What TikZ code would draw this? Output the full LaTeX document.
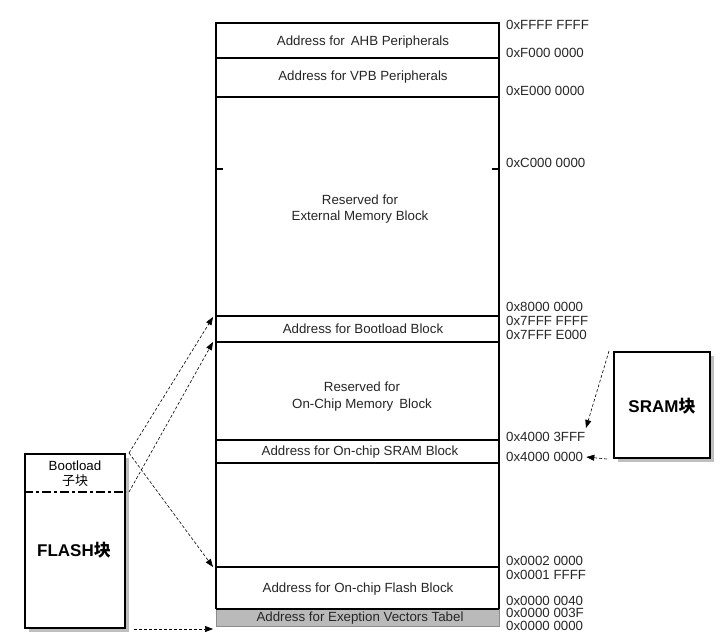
\documentclass[tikz,border=0pt]{standalone}
\usepackage{fontspec}
\setmainfont{Liberation Sans}
\newfontfamily\cjk{Noto Sans CJK SC}
\usetikzlibrary{arrows.meta,shadows}
\tikzset{
  lbl/.style={font=\fontsize{13.3}{15}\selectfont, inner sep=0pt, text height=9.5pt, text depth=0pt, text=black!85},
  hex/.style={lbl, anchor=west},
  thickline/.style={line width=2.3pt},
  thinline/.style={line width=1.6pt},
  conn/.style={densely dashed, line width=0.6pt, -{Triangle[length=8pt,width=6pt]}},
  blockbox/.style={draw, line width=2pt, fill=white, inner sep=0pt,
    drop shadow={shadow xshift=4pt, shadow yshift=-4pt, fill=black!50, opacity=0.5}},
  bigtxt/.style={font=\bfseries\fontsize{17}{19}\selectfont, inner sep=0pt}
}
\begin{document}
\begin{tikzpicture}[x=1pt,y=-1pt]
\useasboundingbox (0,0) rectangle (724,637);
\fill[white] (0,0) rectangle (724,637);

% gray exception vector row
\draw[fill=black!27, draw=black!45, line width=0.8pt] (216,609) rectangle (499,626);

% main column frame
\draw[thickline] (216,609) -- (216,23) -- (499,23) -- (499,609);
\draw[thinline] (216,58) -- (499,58);
\draw[thickline] (216,97) -- (499,97);
\draw[thinline] (216,169) -- (223,169);
\draw[thinline] (492,169) -- (499,169);
\draw[thinline] (216,316) -- (499,316);
\draw[thickline] (216,342) -- (499,342);
\draw[thickline] (216,440) -- (499,440);
\draw[thickline] (216,463) -- (499,463);
\draw[thickline] (216,567) -- (499,567);
\draw[thickline] (216,609) -- (499,609);

% row texts
\node[lbl] (ahb) at (363,41) {Address for\, AHB Peripherals};
\node[lbl] (vpb) at (363,76) {Address for VPB Peripherals};
\node[lbl] (ext1) at (360,200) {Reserved for};
\node[lbl] (ext2) at (360,216) {External Memory Block};
\node[lbl] (boot) at (363,329) {Address for Bootload Block};
\node[lbl] (onc1) at (362,387) {Reserved for};
\node[lbl] (onc2) at (362,404) {On-Chip Memory\, Block};
\node[lbl] (sramrow) at (360,451) {Address for On-chip SRAM Block};
\node[lbl] (flashrow) at (358,588) {Address for On-chip Flash Block};
\node[lbl] (vect) at (360,617) {Address for Exeption Vectors Tabel};

% address labels
\node[hex] (a1) at (506,25) {0xFFFF FFFF};
\node[hex] (a2) at (506,53) {0xF000 0000};
\node[hex] (a3) at (506,91) {0xE000 0000};
\node[hex] (a4) at (506,163) {0xC000 0000};
\node[hex] (a5) at (506,307) {0x8000 0000};
\node[hex] (a6) at (506,321) {0x7FFF FFFF};
\node[hex] (a7) at (506,335) {0x7FFF E000};
\node[hex] (a8) at (506,437) {0x4000 3FFF};
\node[hex] (a9) at (506,457) {0x4000 0000};
\node[hex] (a10) at (506,561) {0x0002 0000};
\node[hex] (a11) at (506,575) {0x0001 FFFF};
\node[hex] (a12) at (506,601) {0x0000 0040};
\node[hex] (a13) at (506,613) {0x0000 003F};
\node[hex] (a14) at (506,626) {0x0000 0000};

% FLASH block
\node[blockbox, minimum width=100pt, minimum height=174pt] (flash) at (75,541) {};
\draw[line width=2.8pt, dash pattern=on 9pt off 3pt on 3pt off 3pt] (flash.west |- 0,492) coordinate (splitL) -- (flash.east |- 0,492) coordinate (splitR);
\node[lbl, text=black] (bl1) at (75,466) {Bootload};
\node[lbl, text=black, font=\cjk\fontsize{13}{15}\selectfont] (bl2) at (75,481) {子块};
\node[bigtxt] (flashtxt) at (74,550) {FLASH{\cjk 块}};

% SRAM block
\node[blockbox, minimum width=96pt, minimum height=106pt] (sram) at (662,405) {};
\node[bigtxt] (sramtxt) at (662,406) {SRAM{\cjk 块}};

% arrow targets
\coordinate (tBootTop) at (213,317);
\coordinate (tBootBot) at (213,342);
\coordinate (tFlash) at (213,567);
\coordinate (tVect) at (213,629);
\coordinate (tSramTop) at (586,428);
\coordinate (tSramBot) at ([xshift=3pt]a9.east);

% connectors
\draw[conn] ([xshift=3pt]flash.north east) -- (tBootTop);
\draw[conn] ([xshift=3pt]splitR) -- (tBootBot);
\draw[conn] ([xshift=3pt]flash.north east) -- (tFlash);
\draw[conn] ([xshift=8pt]flash.south east) -- (tVect);
\draw[conn] ([xshift=-4pt]sram.north west) -- (tSramTop);
\draw[conn] ([xshift=-6pt]sram.south west) -- (tSramBot);
\end{tikzpicture}
\end{document}
